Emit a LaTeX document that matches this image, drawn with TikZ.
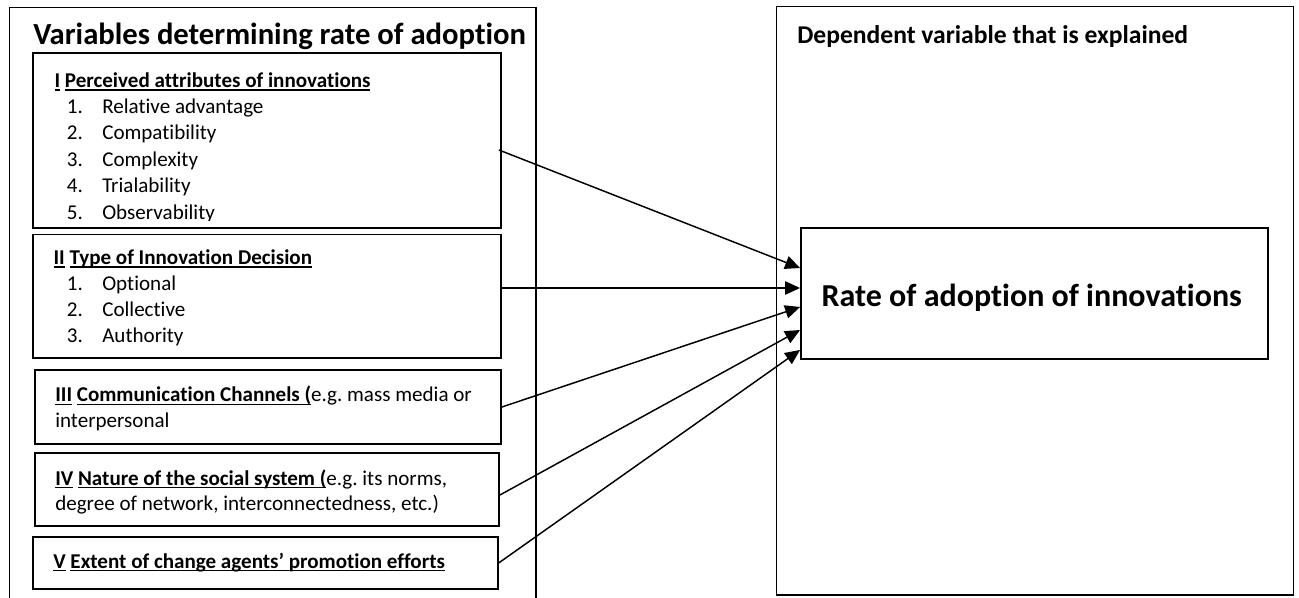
\documentclass[tikz,border=0pt]{standalone}
\usepackage{fontspec}
\setmainfont{Carlito}[Ligatures={NoCommon,NoContextual}, RawFeature={-liga;-clig;-dlig;-calt;-hlig}]
\usetikzlibrary{arrows.meta,calc,fit}
\frenchspacing

% underline at a fixed depth below the baseline
\newcommand\ulbox[1]{\setbox0\hbox{#1}\rlap{\rule[-2.6pt]{\wd0}{0.95pt}}\box0\relax}
% numbered list entry with a fixed number column
\newcommand\numitem[2]{\makebox[26.5pt][l]{#1}#2}

\tikzset{
  frame/.style={draw, line width=1pt, inner sep=0pt},
  card/.style={draw, line width=1.4pt, inner sep=0pt},
  txt/.style={anchor=base west, inner sep=0pt, font=\fontsize{15.8pt}{19pt}\selectfont},
  heading/.style={anchor=base west, inner sep=0pt, font=\fontsize{23pt}{27pt}\selectfont\bfseries},
  link/.style={-{Triangle[length=11.2pt,width=10pt]}, line width=1.1pt},
}

\begin{document}
\begin{tikzpicture}[x=0.75pt, y=-0.75pt]
\useasboundingbox (0,0) rectangle (1299,598);
\fill[white] (0,0) rectangle (1299,598);

% outer frames
\node[frame, fit={(9.3,7.3) (536,603)}] (left) {};
\node[frame, fit={(776.5,6.7) (1293.3,595)}] (right) {};

\node[heading] (lefttitle) at (33,45) {Variables determining rate of adoption};
\node[heading, font=\fontsize{19.2pt}{23pt}\selectfont\bfseries] (righttitle) at (797,43.3) {Dependent variable that is explained};

% variable boxes
\node[card, fit={(32.7,53.3) (501,227.7)}] (b1) {};
\node[card, fit={(32.7,234.5) (501,358.3)}] (b2) {};
\node[card, fit={(34.7,370) (501,444)}] (b3) {};
\node[card, fit={(34.7,453.3) (499,526)}] (b4) {};
\node[card, fit={(32.7,536.7) (497.7,589.3)}] (b5) {};

% I
\node[txt] (h1) at (54.3,87.3) {\ulbox{\textbf{I}} \ulbox{\textbf{Perceived attributes of innovations}}};
\node[txt] (i11) at (66.7,113.3) {\numitem{1.}{Relative advantage}};
\node[txt] (i12) at (66.7,139.8) {\numitem{2.}{Compatibility}};
\node[txt] (i13) at (66.7,166.3) {\numitem{3.}{Complexity}};
\node[txt] (i14) at (66.7,192.8) {\numitem{4.}{Trialability}};
\begin{scope}
  \clip (34,200) rectangle (499,221);
  \node[txt] (i15) at (66.7,219.3) {\numitem{5.}{Observability}};
\end{scope}

% II
\node[txt] (h2) at (53.3,264.3) {\ulbox{\textbf{II}} \ulbox{\textbf{Type of Innovation Decision}}};
\node[txt] (i21) at (66.7,291) {\numitem{1.}{Optional}};
\node[txt] (i22) at (66.7,317) {\numitem{2.}{Collective}};
\node[txt] (i23) at (66.7,343) {\numitem{3.}{Authority}};

% III
\node[txt] (h3) at (55,401.5) {\ulbox{\textbf{III}} \ulbox{\textbf{Communication Channels (}}e.g. mass media or};
\node[txt] (l3) at (55,427.5) {interpersonal};

% IV
\node[txt] (h4) at (55,485) {\ulbox{\textbf{IV}} \ulbox{\textbf{Nature of the social system (}}e.g. its norms,};
\node[txt] (l4) at (55,510) {degree of network, interconnectedness, etc.)};

% V
\node[txt] (h5) at (53,568) {\ulbox{\textbf{V}} \ulbox{\textbf{Extent of change agents’ promotion efforts}}};

% explained variable
\node[card, fit={(801,228.3) (1268.3,359)}] (rate) {};
\node[anchor=base, inner sep=0pt, font=\fontsize{24pt}{29pt}\selectfont\bfseries] (ratelbl) at (1031.7,307) {Rate of adoption of innovations};

% influences
\draw[link] ($(b1.east)+(-3,9.5)$) -- ($(rate.west)+(0,-25.65)$);
\draw[link] ($(b2.east)+(0,-8.4)$) -- ($(rate.west)+(0,-5.65)$);
\draw[link] (b3.east) -- ($(rate.west)+(0,13.35)$);
\draw[link] ($(b4.east)+(0,5.35)$) -- ($(rate.west)+(0,36.35)$);
\draw[link] (b5.east) -- ($(rate.west)+(0,56.35)$);
\end{tikzpicture}
\end{document}
